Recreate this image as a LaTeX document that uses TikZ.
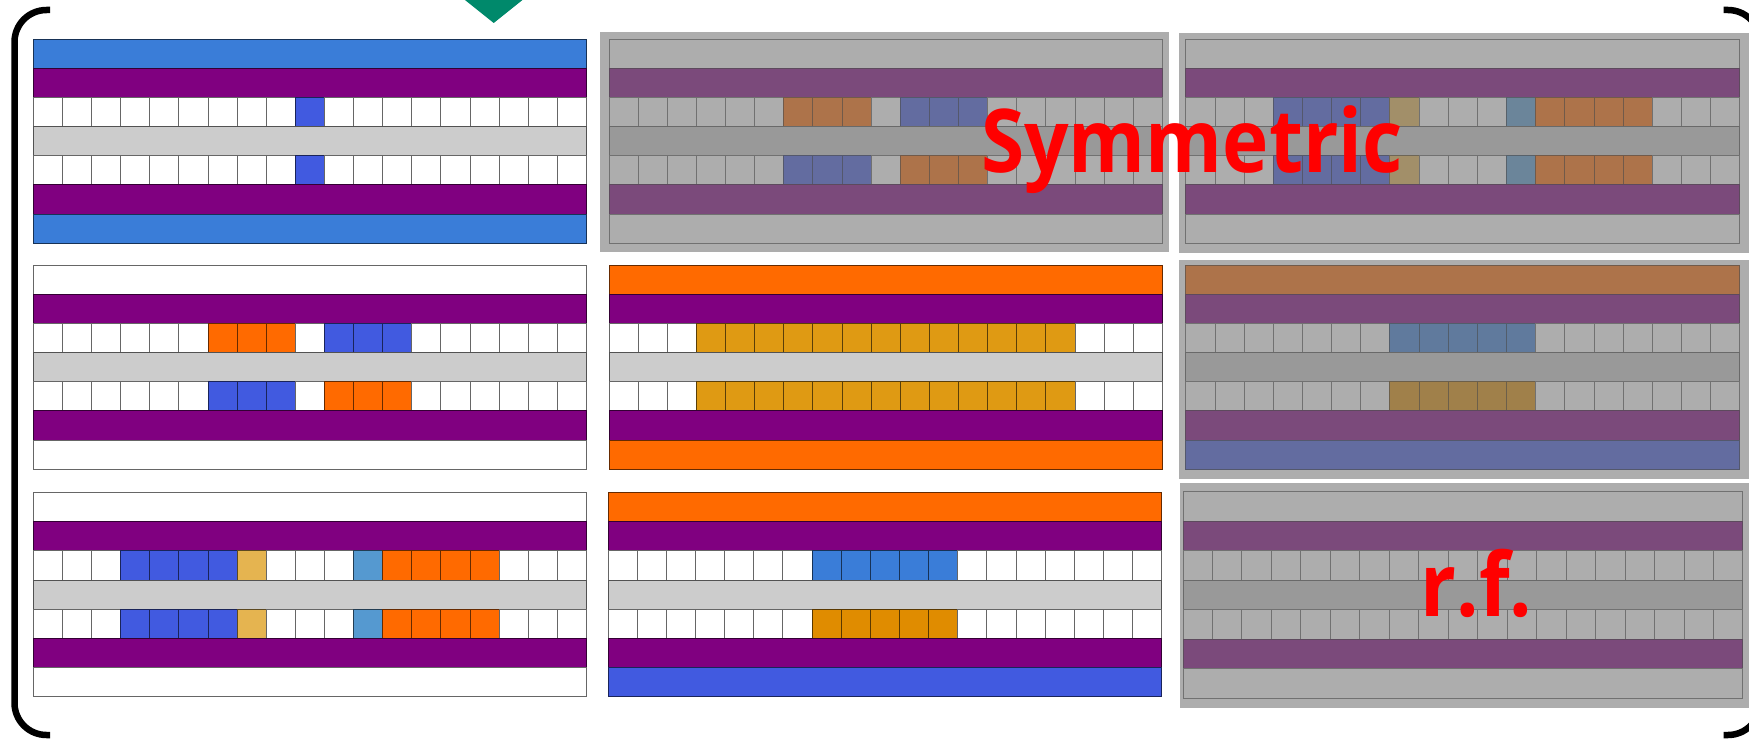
\documentclass[tikz,border=0pt]{standalone}
\usepackage{fontspec}
\usepackage{graphicx}
\newfontfamily\lblfont{Open Sans}
\definecolor{W}{RGB}{255,255,255}
\definecolor{B}{RGB}{65,90,224}
\definecolor{S}{RGB}{58,125,216}
\definecolor{O}{RGB}{255,106,0}
\definecolor{G}{RGB}{223,154,19}
\definecolor{H}{RGB}{224,140,0}
\definecolor{L}{RGB}{229,180,80}
\definecolor{C}{RGB}{85,153,208}
\definecolor{P}{RGB}{128,0,128}
\definecolor{M}{RGB}{204,204,204}
\definecolor{fadeg}{RGB}{121,121,121}
\definecolor{marker}{RGB}{0,137,107}
\tikzset{
  cellbox/.style={fill=#1, draw=#1!40!black, line width=1pt},
  fadebox/.style={fill=fadeg, fill opacity=0.61},
  bracketline/.style={draw=black, line width=6.5pt, rounded corners=32pt},
  lbl/.style={text=red, inner sep=0pt, font=\lblfont\bfseries\fontsize{88}{88}\selectfont}
}
% #1 x0, #2 y0, #3 cell width, #4 cell height, #5 top band, #6 bottom band, #7 top cells, #8 bottom cells
\newcommand{\drawpanel}[8]{%
  \path[cellbox=#5] (#1,#2) rectangle ({#1+19*#3},{#2+#4});
  \path[cellbox=P] (#1,{#2+#4}) rectangle ({#1+19*#3},{#2+2*#4});
  \foreach \c [count=\i from 0] in {#7} {
    \path[cellbox=\c] ({#1+\i*#3},{#2+2*#4}) rectangle ({#1+(\i+1)*#3},{#2+3*#4});
  }
  \path[cellbox=M] (#1,{#2+3*#4}) rectangle ({#1+19*#3},{#2+4*#4});
  \foreach \c [count=\i from 0] in {#8} {
    \path[cellbox=\c] ({#1+\i*#3},{#2+4*#4}) rectangle ({#1+(\i+1)*#3},{#2+5*#4});
  }
  \path[cellbox=P] (#1,{#2+5*#4}) rectangle ({#1+19*#3},{#2+6*#4});
  \path[cellbox=#6] (#1,{#2+6*#4}) rectangle ({#1+19*#3},{#2+7*#4});
}
\begin{document}
\begin{tikzpicture}[x=1pt,y=-1pt]
\useasboundingbox (0,0) rectangle (1749,741);
\fill[white] (0,0) rectangle (1749,741);
% row 1
\drawpanel{33.3}{39.3}{29.12}{29.14}{S}{S}{W,W,W,W,W,W,W,W,W,B,W,W,W,W,W,W,W,W,W}{W,W,W,W,W,W,W,W,W,B,W,W,W,W,W,W,W,W,W}
\drawpanel{609.1}{39.3}{29.12}{29.14}{W}{W}{W,W,W,W,W,W,O,O,O,W,B,B,B,W,W,W,W,W,W}{W,W,W,W,W,W,B,B,B,W,O,O,O,W,W,W,W,W,W}
\drawpanel{1185.9}{39.3}{29.15}{29.14}{W}{W}{W,W,W,B,B,B,B,L,W,W,W,C,O,O,O,O,W,W,W}{W,W,W,B,B,B,B,L,W,W,W,C,O,O,O,O,W,W,W}
% row 2
\drawpanel{33.3}{265}{29.12}{29.18}{W}{W}{W,W,W,W,W,W,O,O,O,W,B,B,B,W,W,W,W,W,W}{W,W,W,W,W,W,B,B,B,W,O,O,O,W,W,W,W,W,W}
\drawpanel{609.1}{265}{29.12}{29.18}{O}{O}{W,W,W,G,G,G,G,G,G,G,G,G,G,G,G,G,W,W,W}{W,W,W,G,G,G,G,G,G,G,G,G,G,G,G,G,W,W,W}
\drawpanel{1185.9}{265}{29.15}{29.18}{O}{B}{W,W,W,W,W,W,W,S,S,S,S,S,W,W,W,W,W,W,W}{W,W,W,W,W,W,W,H,H,H,H,H,W,W,W,W,W,W,W}
% row 3
\drawpanel{33.3}{492.7}{29.12}{29.14}{W}{W}{W,W,W,B,B,B,B,L,W,W,W,C,O,O,O,O,W,W,W}{W,W,W,B,B,B,B,L,W,W,W,C,O,O,O,O,W,W,W}
\drawpanel{608}{492.7}{29.15}{29.14}{O}{B}{W,W,W,W,W,W,W,S,S,S,S,S,W,W,W,W,W,W,W}{W,W,W,W,W,W,W,H,H,H,H,H,W,W,W,W,W,W,W}
\drawpanel{1183}{491.7}{29.47}{29.5}{W}{W}{W,W,W,W,W,W,W,W,W,W,W,W,W,W,W,W,W,W,W}{W,W,W,W,W,W,W,W,W,W,W,W,W,W,W,W,W,W,W}
% greyed-out overlays
\path[fadebox] (599.6,31.7) rectangle (1168.6,252);
\path[fadebox] (1179.2,33.3) rectangle (1760,253);
\path[fadebox] (1179,260) rectangle (1760,479);
\path[fadebox] (1180,483) rectangle (1760,708);
% labels
\node[lbl, anchor=base west] (sym) at (981,172) {\scalebox{0.89}[1]{Symmetric}};
\node[lbl, anchor=base] (rf) at (1476.5,616) {\scalebox{0.9}[1]{r.f.}};
% brackets
\draw[bracketline] (50,10) -- (14.5,10) -- (14.5,735) -- (50,735);
\draw[bracketline] (1723.5,10) -- (1760,10) -- (1760,735) -- (1723.5,735);
% marker
\fill[marker] (458.7,-5) -- (528.7,-5) -- (493.7,23) -- cycle;
\end{tikzpicture}
\end{document}
